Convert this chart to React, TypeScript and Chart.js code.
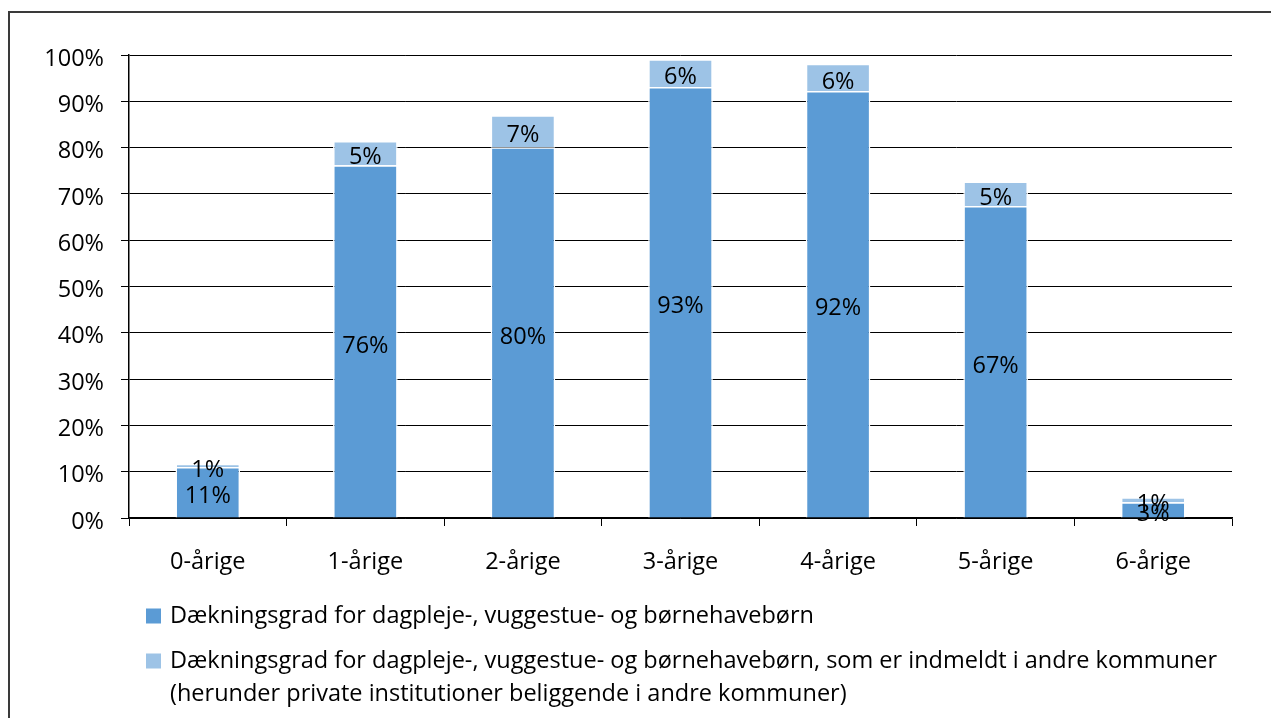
import React, { useEffect, useRef } from "react";
import { Chart, registerables } from "chart.js";

Chart.register(...registerables);

const categories = ["0-årige", "1-årige", "2-årige", "3-årige", "4-årige", "5-årige", "6-årige"];
const ownMunicipality = [11.0, 76.2, 80.1, 93.1, 92.2, 67.4, 3.4];
const otherMunicipalities = [0.7, 5.2, 6.9, 6.0, 5.9, 5.3, 1.1];
const seriesLabels = [
  ["Dækningsgrad for dagpleje-, vuggestue- og børnehavebørn"],
  [
    "Dækningsgrad for dagpleje-, vuggestue- og børnehavebørn, som er indmeldt i andre kommuner",
    "(herunder private institutioner beliggende i andre kommuner)",
  ],
];
const seriesColors = ["#5B9BD5", "#9DC3E6"];
const yTicks = [0, 10, 20, 30, 40, 50, 60, 70, 80, 90, 100];

const FONT = "'Open Sans', 'Noto Sans', sans-serif";
const FS = 23.5;

const framePlugin = {
  id: "frame",
  beforeDraw(chart: any) {
    const ctx = chart.ctx;
    ctx.save();
    ctx.fillStyle = "#fff";
    ctx.fillRect(0, 0, chart.width, chart.height);
    ctx.strokeStyle = "#3a3a3a";
    ctx.lineWidth = 2;
    ctx.beginPath();
    ctx.moveTo(9, chart.height + 5);
    ctx.lineTo(9, 12);
    ctx.lineTo(chart.width + 5, 12);
    ctx.stroke();
    ctx.restore();
  },
};

const labelsPlugin = {
  id: "segLabels",
  afterDatasetsDraw(chart: any) {
    const ctx = chart.ctx;
    ctx.save();
    ctx.font = `${FS}px ${FONT}`;
    ctx.fillStyle = "#000";
    ctx.textAlign = "center";
    ctx.textBaseline = "middle";
    chart.data.datasets.forEach((ds: any, di: number) => {
      const meta = chart.getDatasetMeta(di);
      meta.data.forEach((bar: any, i: number) => {
        const v = ds.data[i];
        const props = bar.getProps(["x", "y", "base"], true);
        const cy = (props.y + props.base) / 2 + 4.5;
        ctx.fillText(Math.round(v) + "%", props.x, cy);
      });
    });
    ctx.restore();
  },
};

const legendPlugin = {
  id: "customLegend",
  afterDraw(chart: any) {
    const ctx = chart.ctx;
    ctx.save();
    ctx.font = `${FS}px ${FONT}`;
    ctx.textAlign = "left";
    ctx.textBaseline = "middle";
    const rows = [616, 661];
    const lineGap = 33;
    chart.data.datasets.forEach((ds: any, di: number) => {
      const y0 = rows[di];
      ctx.fillStyle = ds.backgroundColor;
      ctx.fillRect(146, y0 - 7.5, 15, 15);
      ctx.fillStyle = "#000";
      const lines: string[] = seriesLabels[di];
      lines.forEach((t, li) => {
        ctx.fillText(t, 170, y0 + li * lineGap);
      });
    });
    ctx.restore();
  },
};

export default function App() {
  const ref = useRef<HTMLCanvasElement>(null);
  useEffect(() => {
    if (!ref.current) return;
    const chart = new Chart(ref.current, {
      type: "bar",
      data: {
        labels: categories,
        datasets: [
          {
            label: seriesLabels[0].join(" "),
            data: ownMunicipality,
            backgroundColor: seriesColors[0],
            borderColor: "#ffffff",
            borderWidth: 1.5,
            barPercentage: 0.41,
            categoryPercentage: 1,
          },
          {
            label: seriesLabels[1].join(" "),
            data: otherMunicipalities,
            backgroundColor: seriesColors[1],
            borderColor: "#ffffff",
            borderWidth: 1.5,
            barPercentage: 0.41,
            categoryPercentage: 1,
          },
        ],
      },
      options: {
        animation: false,
        responsive: false,
        maintainAspectRatio: false,
        layout: { padding: { left: 0, top: 55, right: 39, bottom: 140 } },
        plugins: {
          legend: { display: false },
          tooltip: { enabled: false },
          title: { display: false },
        },
        scales: {
          x: {
            stacked: true,
            afterFit(scale: any) {
              scale.height = 60;
            },
            grid: {
              display: true,
              drawOnChartArea: false,
              drawTicks: true,
              tickLength: 8,
              offset: true,
              color: "#000",
              lineWidth: 1,
            },
            border: { display: true, color: "#000", width: 1.5 },
            ticks: {
              color: "#000",
              font: { family: FONT, size: FS },
              padding: 22,
              maxRotation: 0,
            },
          },
          y: {
            stacked: true,
            min: 0,
            max: 100,
            afterFit(scale: any) {
              scale.width = 129;
            },
            afterBuildTicks(scale: any) {
              scale.ticks = yTicks.map((v) => ({ value: v }));
            },
            grid: {
              display: true,
              drawOnChartArea: true,
              drawTicks: true,
              tickLength: 8,
              color: "#000",
              lineWidth: 1,
            },
            border: { display: true, color: "#000", width: 1.5 },
            ticks: {
              color: "#000",
              font: { family: FONT, size: FS },
              padding: 17,
              labelOffset: 4,
              callback: (v: any) => v + "%",
            },
          },
        },
      },
      plugins: [framePlugin, labelsPlugin, legendPlugin],
    });
    return () => chart.destroy();
  }, []);
  return (
    <div style={{ position: "absolute", left: 0, top: 0, width: 1271, height: 718 }}>
      <canvas ref={ref} width={1271} height={718} style={{ width: 1271, height: 718, display: "block" }} />
    </div>
  );
}
